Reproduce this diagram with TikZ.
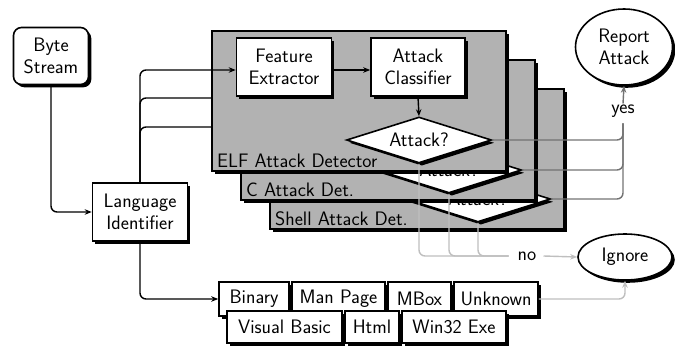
\documentclass[tikz,border=0pt]{standalone}
\usepackage{fontspec}
\usetikzlibrary{shapes.geometric,shadows,arrows.meta}

\tikzset{
  txt/.style={font=\sffamily\fontsize{19.5}{22}\selectfont},
  shade/.style={drop shadow={shadow xshift=2.8pt,shadow yshift=-2.8pt,fill=black,opacity=1}},
  box/.style={txt, draw, line width=1.6pt, fill=white, align=center, inner sep=0pt, shade},
  startbox/.style={box, rounded corners=8pt},
  detector/.style={draw, line width=1.6pt, fill=black!30, minimum width=294pt,
    minimum height=140pt, anchor=north west, inner sep=0pt, shade},
  detlabel/.style={txt, anchor=south west, inner sep=0pt},
  decision/.style={box, diamond, aspect=3, minimum width=145pt, minimum height=46pt},
  outcome/.style={box, ellipse},
  langbox/.style={box, minimum height=34pt},
  conn/.style={line width=1.4pt, rounded corners=6pt},
  arr/.style={-{Stealth[length=7pt,width=5.5pt]}},
  yesline/.style={conn, draw=black!55},
  noline/.style={conn, draw=black!25},
  edgelabel/.style={txt, inner sep=1pt}
}

\begin{document}
\begin{tikzpicture}[x=1pt,y=-1pt]
\useasboundingbox (0,0) rectangle (675,351);

% input and language identification
\node[startbox, minimum width=75pt, minimum height=57pt] (byte) at (51,56) {Byte\\Stream};
\node[box, minimum width=95pt, minimum height=58pt] (lang) at (140,212) {Language\\Identifier};
\draw[conn, arr] (byte.south) |- (lang.west);

% branches into the detectors behind the front one
\coordinate (cin) at (245,98);
\coordinate (shin) at (275,127);
\draw[conn] (lang.north) |- (cin);
\draw[conn] (lang.north) |- (shin);

% stacked detectors, back to front
\node[detector] (shell) at (269,88) {};
\node[detlabel] at ([xshift=6pt,yshift=4pt]shell.south west) {Shell Attack Det.};
\node[decision] (shelldia) at (478,199) {Attack?};

\node[detector] (cdet) at (240,59) {};
\node[detlabel] at ([xshift=6pt,yshift=4pt]cdet.south west) {C Attack Det.};
\node[decision] (cdia) at (449,170) {Attack?};

\node[detector] (elf) at (211,30) {};
\node[detlabel] at ([xshift=6pt,yshift=4pt]elf.south west) {ELF Attack Detector};
\node[box, minimum width=95pt, minimum height=58pt] (feat) at (284,67) {Feature\\Extractor};
\node[box, minimum width=94pt, minimum height=58pt] (cls) at (418,67) {Attack\\Classifier};
\node[decision] (elfdia) at (419,140) {Attack?};
\draw[conn, arr] (feat.east |- 0,70) -- (cls.west |- 0,70);
\draw[conn, arr] (cls.south) -- (elfdia.north);
\draw[conn, arr] (lang.north) |- (feat.west |- 0,70);

% outcomes
\node[outcome, minimum width=97pt, minimum height=76pt] (report) at (624,47) {Report\\Attack};
\node[outcome, minimum width=94pt, minimum height=46pt] (ignore) at (625,257) {Ignore};
\node[edgelabel] (yes) at (623,111) {yes};
\node[edgelabel] (no) at (527,256) {no};

\draw[yesline] (shelldia.east) -| ([yshift=-5pt]yes.south);
\draw[yesline] (cdia.east) -| ([yshift=-5pt]yes.south);
\draw[yesline] (elfdia.east) -| ([yshift=-5pt]yes.south);
\draw[yesline, arr] (yes.north) -- (report.south);

\draw[noline] (elfdia.south) |- ([xshift=-8pt]no.west);
\draw[noline] (cdia.south) |- ([xshift=-8pt]no.west);
\draw[noline] (shelldia.south) |- ([xshift=-8pt]no.west);
\draw[noline, arr] ([xshift=6pt]no.east) -- (ignore.west);

% file types known to the identifier
\node[langbox, minimum width=70pt] (bin) at (254,299) {Binary};
\node[langbox, minimum width=93pt] (man) at (338.5,299) {Man Page};
\node[langbox, minimum width=63pt] (mbox) at (419.5,299) {MBox};
\node[langbox, minimum width=84pt] (unk) at (496,299) {Unknown};
\node[langbox, minimum width=115pt, minimum height=32pt] (vb) at (284.5,327) {Visual Basic};
\node[langbox, minimum width=54pt, minimum height=32pt] (html) at (372,327) {Html};
\node[langbox, minimum width=104pt, minimum height=32pt] (win) at (454,327) {Win32 Exe};

\draw[conn, arr] (lang.south) |- (bin.west);
\draw[noline, arr] (unk.east) -| (ignore.south);
\end{tikzpicture}
\end{document}
